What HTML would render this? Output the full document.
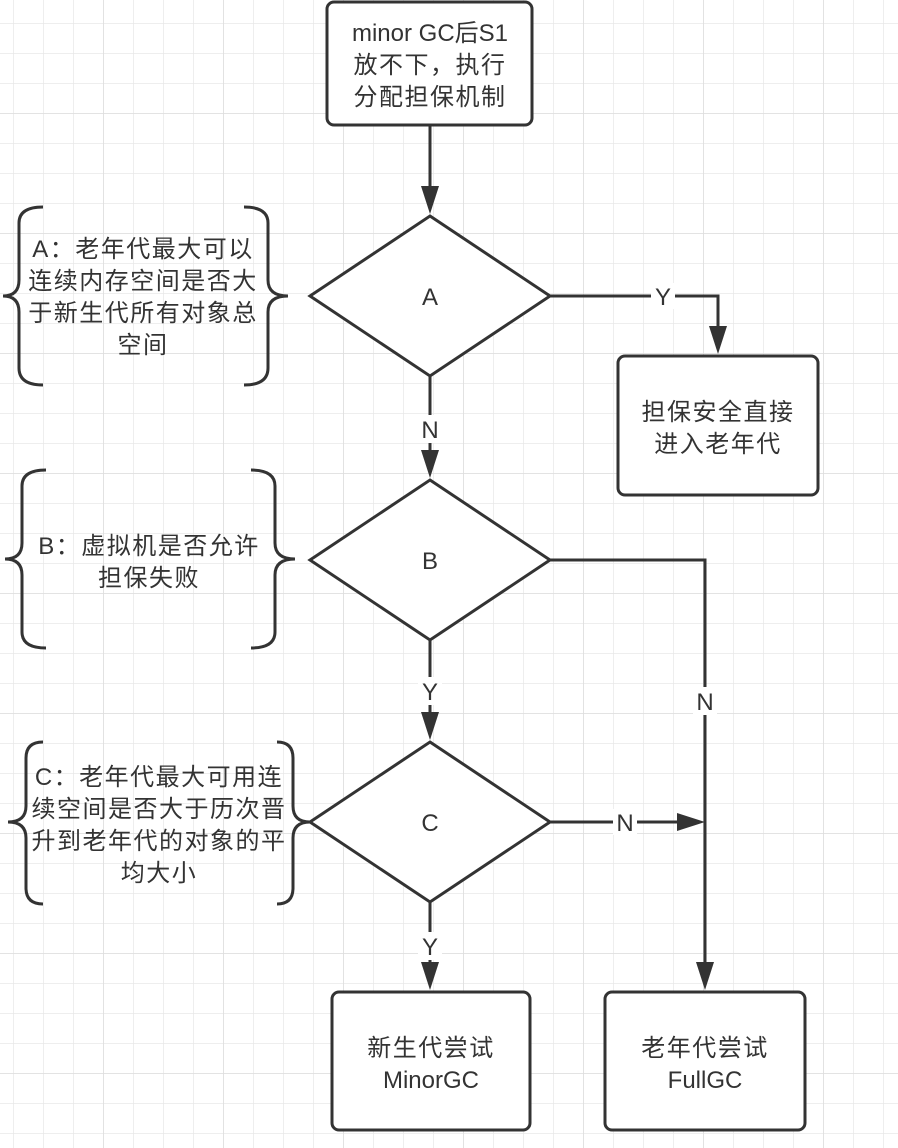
<!DOCTYPE html>
<html><head><meta charset="utf-8"><style>
html,body{margin:0;padding:0;background:#fff}
svg{display:block}
text{font-family:"Liberation Sans","Noto Sans CJK SC",sans-serif;fill:#333;font-size:24px}
.c{letter-spacing:1.5px}
</style></head><body>
<svg width="898" height="1148" viewBox="0 0 898 1148" xmlns="http://www.w3.org/2000/svg">
<defs>
<pattern id="g" x="13" y="23" width="30" height="30" patternUnits="userSpaceOnUse">
<path d="M0 0H30M0 0V30" stroke="#e8e8e8" stroke-width="1.5" fill="none"/>
</pattern>
<pattern id="G" x="103" y="113" width="120" height="120" patternUnits="userSpaceOnUse">
<path d="M0 0H120M0 0V120" stroke="#dedede" stroke-width="1.6" fill="none"/>
</pattern>
</defs>
<rect width="898" height="1148" fill="url(#g)"/>
<rect width="898" height="1148" fill="url(#G)"/>
<g stroke="#333" stroke-width="3" fill="#fff">
<rect x="327" y="2" width="205" height="123" rx="7"/>
<rect x="618" y="356" width="200" height="139" rx="7"/>
<rect x="332" y="992" width="198" height="138" rx="7"/>
<rect x="605" y="992" width="200" height="138" rx="7"/>
<polygon points="430,216 550,296 430,376 310,296"/>
<polygon points="430,480 550,560 430,640 310,560"/>
<polygon points="430,742 550,822 430,902 310,822"/>
</g>
<g stroke="#333" stroke-width="3" fill="none">
<path d="M430 125V196"/>
<path d="M430 376V460"/>
<path d="M430 640V722"/>
<path d="M430 902V972"/>
<path d="M550 296H718V336"/>
<path d="M550 560H705V972"/>
<path d="M550 822H685"/>
<path d="M43 207Q19 207 19 223V280Q19 296 3 296Q19 296 19 312V368Q19 385 43 385"/>
<path d="M244 207Q268 207 268 223V280Q268 296 288 296Q268 296 268 312V368Q268 385 244 385"/>
<path d="M46 470Q22 470 22 486V543Q22 559 5 559Q22 559 22 575V632Q22 648 46 648"/>
<path d="M251 470Q275 470 275 486V543Q275 559 295 559Q275 559 275 575V632Q275 648 251 648"/>
<path d="M43 742Q26 742 26 758V806Q26 822 8 822Q26 822 26 838V888Q26 904 43 904"/>
<path d="M277 742Q293 742 293 758V806Q293 822 310 822Q293 822 293 838V888Q293 904 277 904"/>
</g>
<g fill="#333">
<polygon points="421,186 439,186 430,214"/>
<polygon points="421,450 439,450 430,478"/>
<polygon points="421,712 439,712 430,740"/>
<polygon points="421,962 439,962 430,990"/>
<polygon points="709,326 727,326 718,354"/>
<polygon points="696,962 714,962 705,990"/>
<polygon points="677,813 677,831 705,822"/>
</g>
<g fill="#fff">
<rect x="418" y="415" width="24" height="28"/>
<rect x="418" y="677" width="24" height="28"/>
<rect x="418" y="932" width="24" height="28"/>
<rect x="651" y="283" width="24" height="26"/>
<rect x="693" y="687" width="24" height="28"/>
<rect x="613" y="809" width="24" height="26"/>
</g>
<g text-anchor="middle">
<text x="430" y="41">minor GC后S1</text>
<text class="c" x="430" y="73">放不下，执行</text>
<text class="c" x="430" y="105">分配担保机制</text>
<text x="430" y="305">A</text>
<text x="430" y="569">B</text>
<text x="430" y="831">C</text>
<text x="430" y="438">N</text>
<text x="430" y="700">Y</text>
<text x="430" y="955">Y</text>
<text x="663" y="305">Y</text>
<text x="705" y="710">N</text>
<text x="625" y="831">N</text>
<text class="c" x="718" y="420">担保安全直接</text>
<text class="c" x="718" y="452">进入老年代</text>
<text class="c" x="431" y="1056">新生代尝试</text>
<text x="431" y="1088">MinorGC</text>
<text class="c" x="705" y="1056">老年代尝试</text>
<text x="705" y="1088">FullGC</text>
<text class="c" x="143" y="257">A：老年代最大可以</text>
<text class="c" x="143" y="289">连续内存空间是否大</text>
<text class="c" x="143" y="321">于新生代所有对象总</text>
<text class="c" x="143" y="353">空间</text>
<text class="c" x="149" y="554">B：虚拟机是否允许</text>
<text class="c" x="149" y="586">担保失败</text>
<text class="c" x="159" y="785">C：老年代最大可用连</text>
<text class="c" x="159" y="817">续空间是否大于历次晋</text>
<text class="c" x="159" y="849">升到老年代的对象的平</text>
<text class="c" x="159" y="881">均大小</text>
</g>
</svg>
</body></html>
